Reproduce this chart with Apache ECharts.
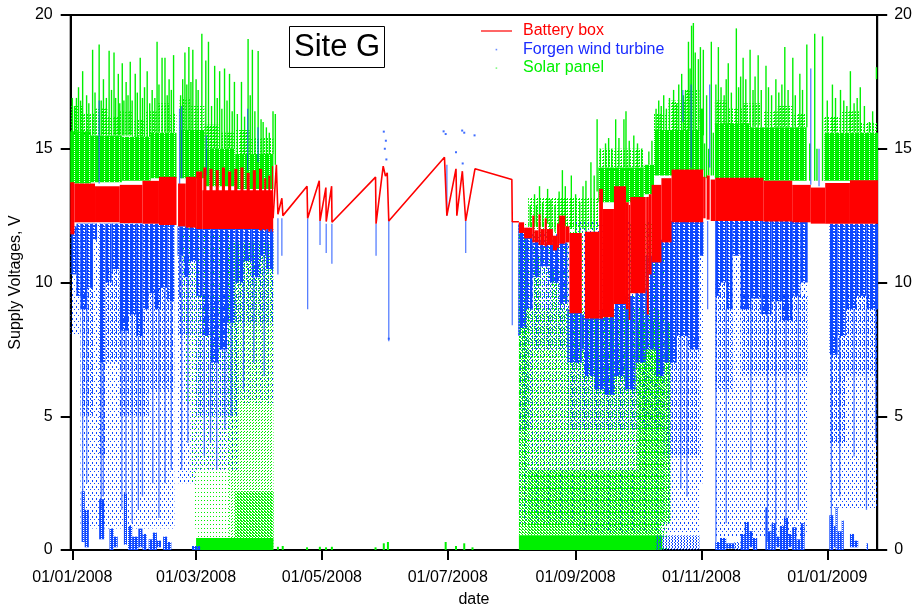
<!DOCTYPE html>
<html>
<head>
<meta charset="utf-8">
<title>Site G supply voltages</title>
<script src="https://cdn.jsdelivr.net/npm/echarts@6/dist/echarts.min.js"></script>
<style>
  html, body { margin: 0; padding: 0; background: #fff; }
  #chart { width: 915px; height: 613px; }
</style>
</head>
<body>
<div id="chart"></div>
<script>
// ---------------- Axis ticks ----------------
const dateTicks = ['2008-01-01', '2008-03-01', '2008-05-01', '2008-07-01', '2008-09-01', '2008-11-01', '2009-01-01'];

// ---------------- Battery box ----------------
// logged continuously: [from, to, min V, max V]
const batteryBands = [
  ['2007-12-31', '2008-01-02', 11.8, 13.75],
  ['2008-01-02', '2008-01-12', 12.25, 13.7],
  ['2008-01-12', '2008-01-24', 12.25, 13.6],
  ['2008-01-24', '2008-02-04', 12.22, 13.65],
  ['2008-02-04', '2008-02-12', 12.2, 13.8],
  ['2008-02-12', '2008-02-20 12', 12.15, 13.95],
  ['2008-02-21 06', '2008-02-25', 12.1, 13.7],
  ['2008-02-25', '2008-03-01', 12.05, 13.95],
  ['2008-03-01', '2008-03-04', 12.0, 14.15],
  ['2008-03-04', '2008-04-07 08', 12.0, 13.45],
  ['2008-03-04 12', '2008-03-06', 12.0, 14.3],
  ['2008-03-07 12', '2008-03-09', 12.0, 14.25],
  ['2008-03-10 12', '2008-03-12', 12.0, 14.2],
  ['2008-03-13 12', '2008-03-15', 12.0, 14.3],
  ['2008-03-16 12', '2008-03-18', 12.0, 14.15],
  ['2008-03-19 12', '2008-03-21', 12.0, 14.25],
  ['2008-03-22 12', '2008-03-24', 12.0, 14.3],
  ['2008-03-25 12', '2008-03-27', 12.0, 14.1],
  ['2008-03-28 12', '2008-03-30', 12.0, 14.2],
  ['2008-03-31 12', '2008-04-02', 11.95, 14.25],
  ['2008-04-03', '2008-04-04', 11.95, 13.9],
  ['2008-04-05', '2008-04-06', 11.9, 14.0],
  ['2008-04-06 18', '2008-04-07 08', 11.9, 14.35],
  ['2008-08-04 12', '2008-08-07', 11.85, 12.25],
  ['2008-08-07', '2008-08-11', 11.65, 12.05],
  ['2008-08-11', '2008-08-12', 11.5, 12.5],
  ['2008-08-12', '2008-08-14', 11.5, 11.95],
  ['2008-08-14', '2008-08-15', 11.4, 12.55],
  ['2008-08-15', '2008-08-17', 11.4, 12.0],
  ['2008-08-17', '2008-08-18', 11.35, 12.4],
  ['2008-08-18', '2008-08-21', 11.4, 12.0],
  ['2008-08-21', '2008-08-23', 11.2, 11.75],
  ['2008-08-23', '2008-08-24', 11.3, 12.2],
  ['2008-08-24', '2008-08-27', 11.45, 12.5],
  ['2008-08-27', '2008-08-29', 11.5, 12.1],
  ['2008-08-29', '2008-09-04', 8.85, 11.85],
  ['2008-09-05 12', '2008-09-12 10', 8.65, 11.9],
  ['2008-09-12 10', '2008-09-14 06', 8.65, 13.5],
  ['2008-09-14 06', '2008-09-19 14', 8.7, 12.75],
  ['2008-09-19 14', '2008-09-25 10', 9.2, 13.6],
  ['2008-09-25 10', '2008-09-26 18', 9.0, 13.0],
  ['2008-09-26 18', '2008-09-27 12', 8.6, 12.9],
  ['2008-09-27 12', '2008-10-04 22', 9.6, 13.2],
  ['2008-10-04 22', '2008-10-05 12', 9.7, 13.2],
  ['2008-10-05 12', '2008-10-06 12', 8.8, 13.2],
  ['2008-10-06 12', '2008-10-07 20', 10.3, 13.3],
  ['2008-10-07 20', '2008-10-12 14', 10.75, 13.65],
  ['2008-10-12 14', '2008-10-17 12', 11.5, 13.9],
  ['2008-10-17 12', '2008-11-01 20', 12.25, 14.22],
  ['2008-11-01 20', '2008-11-03', 12.4, 13.95],
  ['2008-11-03 12', '2008-11-05', 12.35, 14.0],
  ['2008-11-05 12', '2008-11-07 16', 12.3, 13.85],
  ['2008-11-07 16', '2008-12-01', 12.3, 13.92],
  ['2008-12-01', '2008-12-15', 12.28, 13.8],
  ['2008-12-15', '2008-12-24', 12.25, 13.65],
  ['2008-12-24', '2008-12-31', 12.2, 13.55],
  ['2008-12-31', '2009-01-12', 12.2, 13.72],
  ['2009-01-12', '2009-01-26', 12.2, 13.82]
];
// sparse logging through the summer: [time, V]
const batteryLine = [
  ['2008-04-07 08', 12.4], ['2008-04-08 22', 14.4], ['2008-04-09 16', 12.55],
  ['2008-04-11 14', 13.15], ['2008-04-12 02', 12.5], ['2008-04-23 19', 13.6],
  ['2008-04-24 02', 12.4], ['2008-04-29 17', 13.8], ['2008-04-30 02', 12.3],
  ['2008-05-02 22', 13.55], ['2008-05-03 02', 12.28], ['2008-05-05 17', 13.6],
  ['2008-05-05 21', 12.25], ['2008-05-27 00', 13.94], ['2008-05-27 06', 12.2],
  ['2008-05-30 17', 14.35], ['2008-05-31 19', 13.98], ['2008-06-01 16', 14.1],
  ['2008-06-02 10', 12.3], ['2008-06-29 10', 14.68], ['2008-06-30 14', 12.5],
  ['2008-07-05 00', 14.25], ['2008-07-05 10', 12.5], ['2008-07-08 02', 14.16],
  ['2008-07-09 17', 12.3], ['2008-07-14 05', 14.25], ['2008-08-01 02', 13.85],
  ['2008-08-01 07', 12.27], ['2008-08-04 12', 12.27]
];

// ---------------- Solar panel ----------------
// daytime core: [from, to, min V, max V]
const solarCore = [
  ['2007-12-31', '2008-01-10', 13.7, 15.65],
  ['2008-01-10', '2008-01-25', 13.75, 15.5],
  ['2008-01-25', '2008-02-08', 13.8, 15.45],
  ['2008-02-08', '2008-02-20 12', 13.9, 15.6],
  ['2008-02-22', '2008-03-05', 13.9, 15.7],
  ['2008-03-05', '2008-03-20', 13.6, 15.0],
  ['2008-03-20', '2008-04-07 12', 13.5, 14.8],
  ['2008-09-12', '2008-10-04', 13.0, 14.3],
  ['2008-10-04', '2008-10-09', 13.3, 14.4],
  ['2008-10-09', '2008-10-31', 14.0, 15.7],
  ['2008-10-31', '2008-11-02', 14.2, 16.5],
  ['2008-11-07 12', '2008-11-25', 13.9, 15.95],
  ['2008-11-25', '2008-12-22', 13.8, 15.8],
  ['2008-12-30 12', '2009-01-26', 13.8, 15.6]
];
// scattered readings just above the core
const solarUpper = [
  ['2007-12-31', '2008-01-06', 15.5, 16.6], ['2008-01-06', '2008-01-12', 15.5, 16.3],
  ['2008-01-12', '2008-01-18', 15.5, 16.5], ['2008-01-18', '2008-01-24', 15.5, 16.2],
  ['2008-01-24', '2008-01-30', 15.5, 16.4], ['2008-01-30', '2008-02-05', 15.45, 16.1],
  ['2008-02-05', '2008-02-11', 15.45, 16.4], ['2008-02-11', '2008-02-17', 15.6, 16.7],
  ['2008-02-17', '2008-02-20 12', 15.6, 16.3], ['2008-02-22', '2008-02-27', 15.7, 16.9],
  ['2008-02-27', '2008-03-05', 15.7, 16.6], ['2008-03-05', '2008-03-12', 15.0, 15.9],
  ['2008-03-12', '2008-03-20', 15.0, 15.6], ['2008-03-20', '2008-03-27', 14.8, 15.7],
  ['2008-03-27', '2008-04-07 12', 14.8, 15.4],
  ['2008-08-09', '2008-09-12', 12.0, 13.2],
  ['2008-09-12', '2008-10-04', 14.2, 15.0],
  ['2008-10-09', '2008-10-16', 15.6, 16.3], ['2008-10-16', '2008-10-24', 15.6, 16.8],
  ['2008-10-24', '2008-10-31', 15.6, 17.2],
  ['2008-11-07 12', '2008-11-14', 15.9, 16.8], ['2008-11-14', '2008-11-21', 15.9, 16.5],
  ['2008-11-21', '2008-11-30', 15.9, 16.7], ['2008-12-01', '2008-12-08', 15.8, 16.4],
  ['2008-12-08', '2008-12-15', 15.8, 16.6], ['2008-12-15', '2008-12-22', 15.8, 16.3],
  ['2008-12-30 12', '2009-01-08', 15.6, 16.2], ['2009-01-08', '2009-01-17', 15.6, 16.4],
  ['2009-01-17', '2009-01-26', 15.6, 16.0]
];
// daily peaks: [time, from V, to V]
const solarPeaks = [
  ['2008-01-01', 15.6, 16.9], ['2008-01-02 02', 15.6, 16.6], ['2008-01-03', 15.6, 16.9],
  ['2008-01-04', 15.6, 17.3], ['2008-01-05', 15.6, 16.8], ['2008-01-06', 15.6, 17.9],
  ['2008-01-07 22', 15.6, 17.0], ['2008-01-09', 15.6, 16.7], ['2008-01-10 20', 15.5, 18.7],
  ['2008-01-12', 15.5, 17.1], ['2008-01-14', 15.5, 18.9], ['2008-01-15', 15.5, 16.8],
  ['2008-01-16 02', 15.5, 17.6], ['2008-01-17 12', 15.5, 16.9], ['2008-01-18 20', 15.5, 18.66],
  ['2008-01-20', 15.5, 17.2], ['2008-01-21 05', 15.5, 18.6], ['2008-01-22', 15.5, 16.9],
  ['2008-01-23 07', 15.5, 17.8], ['2008-01-24', 15.5, 16.7], ['2008-01-25 05', 15.5, 18.2],
  ['2008-01-26', 15.5, 16.8], ['2008-01-27 02', 15.5, 17.5], ['2008-01-28', 15.5, 17.0],
  ['2008-01-29 02', 15.5, 18.25], ['2008-01-30', 15.5, 16.8], ['2008-01-31 12', 15.45, 17.8],
  ['2008-02-01 12', 15.45, 17.1], ['2008-02-02 22', 15.45, 18.4], ['2008-02-04', 15.45, 16.9],
  ['2008-02-05', 15.45, 17.3], ['2008-02-06 07', 15.45, 17.9], ['2008-02-07 12', 15.45, 16.7],
  ['2008-02-08 17', 15.5, 17.2], ['2008-02-10', 15.6, 16.9], ['2008-02-11 02', 15.6, 19.0],
  ['2008-02-12', 15.6, 17.4], ['2008-02-13 12', 15.6, 18.4], ['2008-02-14 22', 15.6, 18.4],
  ['2008-02-16', 15.6, 17.0], ['2008-02-16 22', 15.6, 17.6], ['2008-02-18', 15.6, 17.2],
  ['2008-02-19 02', 15.6, 18.5], ['2008-02-22 12', 15.7, 17.0], ['2008-02-23 12', 15.7, 17.6],
  ['2008-02-24 14', 15.7, 18.6], ['2008-02-25 12', 15.7, 17.4], ['2008-02-26 12', 15.7, 18.8],
  ['2008-02-27 12', 15.7, 17.5], ['2008-02-28 10', 15.7, 18.7], ['2008-03-01', 15.7, 17.6],
  ['2008-03-02', 15.7, 17.2], ['2008-03-03 19', 15.7, 19.3], ['2008-03-05 17', 15.0, 18.3],
  ['2008-03-07', 15.0, 19.0], ['2008-03-08 12', 15.0, 16.6], ['2008-03-10', 15.0, 18.1],
  ['2008-03-11 06', 15.0, 16.9], ['2008-03-12 10', 15.0, 17.9], ['2008-03-13 12', 15.0, 16.5],
  ['2008-03-14 19', 15.0, 18.0], ['2008-03-16', 15.0, 16.8], ['2008-03-17 05', 15.0, 17.8],
  ['2008-03-18 12', 15.0, 16.4], ['2008-03-19 14', 15.0, 17.5], ['2008-03-21', 14.8, 16.3],
  ['2008-03-23', 14.8, 17.5], ['2008-03-24 12', 14.8, 16.2], ['2008-03-26 05', 14.8, 19.1],
  ['2008-03-27 06', 14.8, 17.0], ['2008-03-28 07', 14.8, 18.7], ['2008-03-29 12', 14.8, 16.4],
  ['2008-03-31 02', 14.8, 18.65], ['2008-04-01 12', 14.8, 16.1], ['2008-04-02 12', 14.8, 16.0],
  ['2008-04-04 02', 14.8, 15.8], ['2008-04-05 12', 14.8, 15.6], ['2008-04-07 07', 14.8, 16.4],
  ['2008-04-08 10', 14.4, 16.3],
  ['2008-08-10', 12.1, 12.9], ['2008-08-12 02', 12.2, 13.3], ['2008-08-13', 12.1, 12.9],
  ['2008-08-14 12', 12.3, 13.6], ['2008-08-16', 12.1, 13.0], ['2008-08-18 10', 12.2, 13.5],
  ['2008-08-20', 12.0, 13.1], ['2008-08-22', 11.9, 12.9], ['2008-08-24', 12.1, 13.4],
  ['2008-08-25 14', 12.3, 14.2], ['2008-08-27', 12.1, 13.6], ['2008-08-29 22', 12.0, 14.0],
  ['2008-09-01', 11.8, 13.3], ['2008-09-03', 11.8, 13.0], ['2008-09-04 14', 12.0, 13.6],
  ['2008-09-06', 11.9, 13.8], ['2008-09-08 10', 12.0, 14.5], ['2008-09-10', 11.9, 14.0],
  ['2008-09-11 10', 13.4, 16.1], ['2008-09-13', 14.3, 15.0], ['2008-09-15 12', 14.3, 15.2],
  ['2008-09-17', 14.3, 15.4], ['2008-09-18 12', 14.3, 15.0], ['2008-09-20 10', 14.3, 16.1],
  ['2008-09-22', 14.3, 15.4], ['2008-09-24 10', 14.3, 16.1], ['2008-09-25 10', 14.3, 16.4],
  ['2008-09-27', 14.3, 15.3], ['2008-09-29 05', 14.3, 15.5], ['2008-10-01', 14.3, 15.2],
  ['2008-10-03', 14.3, 15.0], ['2008-10-06 12', 14.4, 14.9], ['2008-10-08', 14.4, 15.3],
  ['2008-10-10', 15.7, 16.5], ['2008-10-11 07', 15.7, 16.8], ['2008-10-12 12', 15.7, 16.6],
  ['2008-10-13 17', 15.7, 17.0], ['2008-10-15', 15.7, 16.5], ['2008-10-16 12', 15.7, 16.9],
  ['2008-10-18 12', 15.7, 17.2], ['2008-10-20', 15.7, 16.7], ['2008-10-21', 15.7, 17.4],
  ['2008-10-22 10', 15.7, 17.8], ['2008-10-23 06', 15.7, 17.0], ['2008-10-24 07', 15.7, 17.2],
  ['2008-10-25 17', 15.7, 19.0], ['2008-10-26 12', 15.7, 18.0], ['2008-10-27 05', 15.7, 19.6],
  ['2008-10-28 02', 15.7, 19.7], ['2008-10-29', 15.7, 18.6], ['2008-10-30 12', 15.7, 18.35],
  ['2008-10-31 12', 16.0, 18.8], ['2008-11-01 22', 15.5, 18.7], ['2008-11-02 12', 13.9, 15.2],
  ['2008-11-03 12', 13.9, 17.0], ['2008-11-04 12', 14.0, 15.0], ['2008-11-05 19', 14.0, 19.0],
  ['2008-11-06 18', 14.0, 15.6],
  ['2008-11-08', 15.9, 17.4], ['2008-11-09 05', 15.9, 18.8],
  ['2008-11-10 12', 15.9, 17.3], ['2008-11-12', 15.9, 17.0], ['2008-11-13', 15.9, 17.6],
  ['2008-11-14', 15.9, 18.2], ['2008-11-15 12', 15.9, 17.1], ['2008-11-17 22', 15.9, 19.5],
  ['2008-11-19', 15.9, 17.3], ['2008-11-20', 15.9, 17.7], ['2008-11-21 05', 15.9, 18.4],
  ['2008-11-22 12', 15.9, 17.6], ['2008-11-24 14', 15.9, 18.7], ['2008-11-26', 15.8, 17.2],
  ['2008-11-27', 15.8, 17.7], ['2008-11-28 12', 15.8, 18.5], ['2008-11-30', 15.8, 17.2],
  ['2008-12-02 07', 15.8, 18.1], ['2008-12-03 12', 15.8, 17.3], ['2008-12-05', 15.8, 17.0],
  ['2008-12-07 02', 15.8, 17.6], ['2008-12-08 12', 15.8, 17.1], ['2008-12-10', 15.8, 17.4],
  ['2008-12-11 10', 15.8, 18.8], ['2008-12-13', 15.8, 17.2], ['2008-12-15 07', 15.8, 18.4],
  ['2008-12-16 12', 15.8, 17.0], ['2008-12-18 17', 15.8, 17.8], ['2008-12-20', 15.8, 17.2],
  ['2008-12-22 02', 15.8, 18.9], ['2008-12-23 12', 13.8, 15.2], ['2008-12-25 22', 13.8, 19.3],
  ['2008-12-27', 13.8, 15.0], ['2008-12-29 17', 13.8, 19.2],
  ['2009-01-01', 15.6, 16.8], ['2009-01-03 12', 15.6, 17.4], ['2009-01-05', 15.6, 16.9],
  ['2009-01-07 10', 15.6, 17.2], ['2009-01-09', 15.6, 16.8], ['2009-01-10 12', 15.6, 16.6],
  ['2009-01-12 05', 15.6, 17.9], ['2009-01-14', 15.6, 16.7], ['2009-01-15 12', 15.6, 16.9],
  ['2009-01-17', 15.6, 17.3], ['2009-01-19', 15.6, 16.6], ['2009-01-21 10', 15.6, 16.0],
  ['2009-01-23', 15.6, 16.4], ['2009-01-24 20', 17.6, 18.05]
];
// dusk / night readings below the battery level: [from, to, min V, max V]
const solarDusk = [
  ['2008-02-23', '2008-02-25', 8.5, 12.1],
  ['2008-02-25', '2008-02-27', 5.5, 12.1],
  ['2008-02-27', '2008-02-29', 2.5, 12.0],
  ['2008-02-29', '2008-03-02', 0.8, 12.0],
  ['2008-03-02', '2008-03-17', 0, 12.0],
  ['2008-08-04 12', '2008-10-16', 0, 12.2]
];
const solarDuskMid = [
  ['2008-03-17', '2008-04-07 12', 0, 11.5],
  ['2008-08-09', '2008-10-14', 0.5, 9.0],
  ['2008-08-12', '2008-08-15', 0.5, 11.0],
  ['2008-08-20', '2008-08-23', 0.5, 10.5],
  ['2008-09-10', '2008-09-13', 0.5, 8.5],
  ['2008-09-24', '2008-09-28', 0.5, 8.8]
];
const solarDuskBright = [
  ['2008-03-20', '2008-04-07 12', 0.45, 2.2],
  ['2008-08-04 12', '2008-08-09', 0.55, 12.0],
  ['2008-08-09', '2008-10-12', 0.55, 3.0],
  ['2008-10-01', '2008-10-17', 1.0, 8.5]
];
const solarNight = [
  ['2008-03-01', '2008-04-07 12', 0, 0.45],
  ['2008-08-04 12', '2008-10-13', 0, 0.55]
];
// single night readings during sparse logging: [time, from V, to V]
const solarNightSparse = [
  ['2008-04-09 16', 0, 0.12], ['2008-04-12', 0, 0.15], ['2008-04-23 19', 0, 0.1],
  ['2008-04-30', 0, 0.12], ['2008-05-03', 0, 0.1], ['2008-05-05 20', 0, 0.12],
  ['2008-05-27', 0, 0.1], ['2008-05-31', 0, 0.25], ['2008-06-02', 0, 0.3],
  ['2008-06-30', 0, 0.3], ['2008-07-05', 0, 0.15], ['2008-07-09', 0, 0.25], ['2008-07-13', 0, 0.1]
];

// ---------------- Forgen wind turbine ----------------
// heavy readings just under the battery: [from, to, min V, max V]
const windDense = [
  ['2007-12-31 12', '2008-01-03', 10.3, 12.1], ['2008-01-03', '2008-01-05', 9.5, 12.2],
  ['2008-01-05', '2008-01-08', 9.0, 12.2], ['2008-01-08', '2008-01-11', 9.8, 12.2],
  ['2008-01-11', '2008-01-13', 11.6, 12.2], ['2008-01-14', '2008-01-17', 7.0, 12.2],
  ['2008-01-17', '2008-01-20', 10.0, 12.2], ['2008-01-20', '2008-01-24', 10.5, 12.2],
  ['2008-01-24', '2008-01-28', 8.2, 12.2], ['2008-01-28', '2008-02-01', 8.8, 12.2],
  ['2008-02-01', '2008-02-04', 8.0, 12.2], ['2008-02-04', '2008-02-07', 9.0, 12.2],
  ['2008-02-07', '2008-02-10', 9.6, 12.2], ['2008-02-10', '2008-02-13', 9.0, 12.2],
  ['2008-02-13', '2008-02-16', 9.8, 12.2], ['2008-02-16', '2008-02-19 12', 9.3, 12.2],
  ['2008-02-21', '2008-02-24', 11.0, 12.1], ['2008-02-24', '2008-02-27', 10.2, 12.1],
  ['2008-02-27', '2008-03-01', 10.8, 12.1], ['2008-03-01', '2008-03-04', 9.5, 12.0],
  ['2008-03-04', '2008-03-08', 8.0, 12.0], ['2008-03-08', '2008-03-12', 7.0, 12.0],
  ['2008-03-12', '2008-03-16', 7.5, 12.0], ['2008-03-16', '2008-03-20', 8.5, 12.0],
  ['2008-03-20', '2008-03-24', 10.0, 12.0], ['2008-03-24', '2008-03-28', 10.8, 12.0],
  ['2008-03-28', '2008-04-01', 10.2, 12.0], ['2008-04-01', '2008-04-04', 11.0, 12.0],
  ['2008-04-04', '2008-04-07 12', 10.5, 12.0],
  ['2008-08-04 06', '2008-08-05', 8.0, 12.2], ['2008-08-05', '2008-08-08', 8.3, 11.9],
  ['2008-08-08', '2008-08-11', 9.0, 11.8], ['2008-08-11', '2008-08-15', 10.2, 11.6],
  ['2008-08-15', '2008-08-19', 10.6, 11.5], ['2008-08-19', '2008-08-24', 10.0, 11.4],
  ['2008-08-24', '2008-08-28', 9.2, 11.5], ['2008-08-28', '2008-09-04', 7.0, 9.0],
  ['2008-09-04', '2008-09-05 12', 7.5, 8.8], ['2008-09-05 12', '2008-09-10', 6.5, 9.0],
  ['2008-09-10', '2008-09-15', 6.0, 9.0], ['2008-09-15', '2008-09-20', 5.8, 9.0],
  ['2008-09-20', '2008-09-25', 6.5, 9.5], ['2008-09-25', '2008-09-30', 6.0, 9.5],
  ['2008-09-30', '2008-10-05', 7.0, 9.8], ['2008-10-05', '2008-10-10', 7.5, 11.0],
  ['2008-10-10', '2008-10-14', 6.5, 11.6], ['2008-10-14', '2008-10-20', 7.0, 12.3],
  ['2008-10-20', '2008-10-26', 8.0, 12.3], ['2008-10-26', '2008-10-31', 7.5, 12.3],
  ['2008-10-31', '2008-11-02', 11.0, 12.3],
  ['2008-11-07 16', '2008-11-10', 9.5, 12.3], ['2008-11-10', '2008-11-13', 10.0, 12.3],
  ['2008-11-13', '2008-11-16', 9.0, 12.3], ['2008-11-16', '2008-11-20', 11.0, 12.3],
  ['2008-11-20', '2008-11-25', 9.0, 12.3], ['2008-11-25', '2008-11-30', 9.4, 12.3],
  ['2008-11-30', '2008-12-05', 8.8, 12.3], ['2008-12-05', '2008-12-10', 9.3, 12.3],
  ['2008-12-10', '2008-12-15', 8.6, 12.3], ['2008-12-15', '2008-12-19', 9.5, 12.3],
  ['2008-12-19', '2008-12-22 12', 10.0, 12.3],
  ['2009-01-02', '2009-01-06', 7.3, 12.2], ['2009-01-06', '2009-01-10', 8.0, 12.2],
  ['2009-01-10', '2009-01-15', 9.0, 12.2], ['2009-01-15', '2009-01-20', 9.5, 12.2],
  ['2009-01-20', '2009-01-26', 9.0, 12.2]
];
const windMedium = [
  ['2008-01-05', '2008-01-11', 5.0, 9.8], ['2008-01-14', '2008-01-17', 3.5, 7.0],
  ['2008-01-17', '2008-01-24', 7.0, 10.5], ['2008-01-24', '2008-02-07', 5.0, 9.0],
  ['2008-02-07', '2008-02-19 12', 6.0, 9.8], ['2008-02-21', '2008-03-01', 8.0, 11.0],
  ['2008-03-01', '2008-03-21', 5.0, 9.5], ['2008-03-21', '2008-04-07 12', 8.5, 11.0],
  ['2008-08-05', '2008-08-11', 4.5, 9.0], ['2008-08-11', '2008-08-28', 7.5, 10.6],
  ['2008-08-28', '2008-10-14', 4.5, 7.5], ['2008-10-14', '2008-10-31', 3.5, 8.0],
  ['2008-11-07 16', '2008-11-16', 6.0, 10.0], ['2008-11-20', '2008-12-22 12', 6.5, 9.5],
  ['2009-01-02', '2009-01-10', 4.0, 8.0], ['2009-01-10', '2009-01-26', 6.5, 9.5]
];
const windSparse = [
  ['2007-12-31', '2008-01-05', 8.0, 12.1], ['2008-01-05', '2008-02-19 12', 0.8, 12.2],
  ['2008-02-21', '2008-03-01', 2.5, 12.1], ['2008-03-01', '2008-03-21', 3.0, 12.0],
  ['2008-03-21', '2008-04-07 12', 5.5, 12.0],
  ['2008-08-04 12', '2008-09-01', 1.0, 11.8], ['2008-09-01', '2008-10-31', 0.6, 12.3],
  ['2008-10-31', '2008-11-02', 2.5, 12.3],
  ['2008-11-07 16', '2008-12-22 12', 0.5, 12.3], ['2009-01-02', '2009-01-26', 1.5, 12.2]
];
// clusters of readings close to 0 V
const windNearZero = [
  ['2008-01-05 12', '2008-01-07', 0.3, 2.2], ['2008-01-07', '2008-01-09', 0.1, 1.5],
  ['2008-01-14', '2008-01-16 12', 0.4, 1.9], ['2008-01-19', '2008-01-21', 0, 0.8],
  ['2008-01-21', '2008-01-23', 0.1, 0.5],
  ['2008-01-26', '2008-01-27 12', 0.2, 2.1], ['2008-01-28', '2008-01-30', 0, 0.9],
  ['2008-01-30', '2008-02-02', 0, 0.5], ['2008-02-02', '2008-02-04', 0.1, 0.8],
  ['2008-02-04', '2008-02-06', 0, 0.6], ['2008-02-07', '2008-02-09', 0, 0.4],
  ['2008-02-09', '2008-02-11', 0, 0.65], ['2008-02-11', '2008-02-13', 0.1, 0.35],
  ['2008-02-14', '2008-02-16', 0, 0.5], ['2008-02-16', '2008-02-18', 0, 0.3],
  ['2008-02-28', '2008-03-03', 0, 0.15],
  ['2008-11-07 16', '2008-11-10', 0, 0.3], ['2008-11-10', '2008-11-13', 0, 0.45],
  ['2008-11-13', '2008-11-17', 0.05, 0.25],
  ['2008-11-20', '2008-11-22', 0, 0.6], ['2008-11-22', '2008-11-24', 0, 1.05],
  ['2008-11-24', '2008-11-26', 0.1, 0.7], ['2008-11-26', '2008-11-28', 0, 0.45],
  ['2008-12-02', '2008-12-02 18', 0, 1.6], ['2008-12-03', '2008-12-05', 0, 0.7],
  ['2008-12-05', '2008-12-07', 0, 1.0], ['2008-12-07', '2008-12-09', 0.1, 0.5],
  ['2008-12-09', '2008-12-11', 0, 0.9], ['2008-12-11', '2008-12-13', 0, 1.2],
  ['2008-12-13', '2008-12-15', 0.1, 0.6], ['2008-12-15', '2008-12-17', 0, 0.85],
  ['2008-12-17', '2008-12-19', 0, 0.4], ['2008-12-19', '2008-12-21', 0, 1.0],
  ['2009-01-02', '2009-01-04', 0, 1.3], ['2009-01-04', '2009-01-05', 0.1, 0.9],
  ['2009-01-05', '2009-01-06', 0, 1.6], ['2009-01-06', '2009-01-08', 0, 0.7],
  ['2009-01-08', '2009-01-09', 0, 1.1],
  ['2009-01-12', '2009-01-14', 0.1, 0.6], ['2009-01-14', '2009-01-16', 0.1, 0.35],
  ['2009-01-20', '2009-01-20 18', 0, 0.25]
];
const windNearZeroLight = [
  ['2008-10-10', '2008-10-31', 0, 0.55], ['2008-11-17', '2008-11-20', 0, 0.3]
];
// single gusts: [time, from V, to V]
const windStreaks = [
  ['2008-01-06', 2.2, 9.0], ['2008-01-08', 2.5, 9.8], ['2008-01-15', 1.5, 7.0], ['2008-01-16', 2.0, 7.0],
  ['2008-01-25', 1.5, 8.2], ['2008-01-27', 2.0, 8.2], ['2008-01-30', 1.0, 8.8], ['2008-02-02', 1.5, 8.0],
  ['2008-02-04', 2.0, 9.0], ['2008-02-09', 2.5, 9.6], ['2008-02-12', 1.2, 9.0], ['2008-02-15', 2.5, 9.8],
  ['2008-02-18', 3.0, 9.3], ['2008-02-23', 3.0, 11.0], ['2008-02-26', 4.0, 10.2], ['2008-03-05', 3.5, 8.0],
  ['2008-03-08', 4.0, 7.0], ['2008-03-11', 3.0, 7.0], ['2008-03-15', 4.5, 7.5], ['2008-03-18', 5.0, 8.5],
  ['2008-03-24', 6.0, 10.0], ['2008-03-29', 7.0, 10.2], ['2008-04-03', 6.5, 11.0],
  ['2008-01-14', 13.7, 16.8], ['2008-02-22', 9.5, 16.5], ['2008-02-23', 13.9, 16.6],
  ['2008-03-06', 14.0, 15.5], ['2008-03-26', 14.2, 16.5], ['2008-03-31', 14.5, 15.8],
  ['2008-04-09 16', 10.3, 12.4], ['2008-04-11 14', 11.0, 12.4], ['2008-04-24 02', 9.0, 12.4],
  ['2008-04-30 02', 11.4, 12.3], ['2008-05-03 02', 11.1, 12.2], ['2008-05-05 20', 10.7, 12.2],
  ['2008-05-27 06', 11.0, 12.2], ['2008-06-02 10', 7.8, 12.3], ['2008-06-30 14', 12.5, 14.4],
  ['2008-07-09 17', 11.1, 12.3], ['2008-08-01 07', 8.4, 12.3], ['2008-08-04 12', 8.0, 12.2],
  ['2008-10-22', 2.3, 8.0], ['2008-10-25', 2.0, 8.0], ['2008-11-04', 9.0, 12.3],
  ['2008-11-08', 0.3, 9.5], ['2008-11-13', 1.0, 9.0], ['2008-11-25', 3.0, 9.4], ['2008-12-03', 0.3, 8.8],
  ['2008-12-07', 0.3, 9.3], ['2008-12-12', 1.0, 8.6], ['2008-12-18', 1.5, 9.5], ['2009-01-03', 0.3, 7.3],
  ['2009-01-07', 2.0, 8.0], ['2009-01-14', 3.5, 9.0], ['2009-01-20', 1.5, 9.0], ['2009-01-24 12', 4.0, 9.0],
  ['2008-10-23', 16.0, 17.2], ['2008-10-27', 14.3, 17.4], ['2008-11-05', 14.3, 17.4],
  ['2008-12-24', 13.65, 18.0], ['2008-12-28', 13.6, 15.0]
];
const windPoints = [
  ['2008-05-31', 15.64], ['2008-06-01', 15.3], ['2008-05-31 12', 15.0], ['2008-06-01 06', 14.6],
  ['2008-06-29', 15.65], ['2008-06-30', 15.55], ['2008-07-08', 15.68], ['2008-07-09', 15.6],
  ['2008-07-14', 15.5], ['2008-07-05', 14.87], ['2008-07-08 06', 14.45], ['2008-06-02 10', 7.9]
];

// ---------------- helpers ----------------
function ts(s) {
  const parts = s.split(' ');
  const d = parts[0].split('-').map(Number);
  return Date.UTC(d[0], d[1] - 1, d[2], parts[1] ? Number(parts[1]) : 0);
}
function fmtDate(v) {
  const d = new Date(v);
  const p = n => (n < 10 ? '0' : '') + n;
  return p(d.getUTCDate()) + '/' + p(d.getUTCMonth() + 1) + '/' + d.getUTCFullYear();
}
// small repeating dot textures for scattered readings
function dotTile(color, w, h, cells) {
  const c = document.createElement('canvas');
  c.width = w; c.height = h;
  const g = c.getContext('2d');
  g.fillStyle = color;
  cells.forEach(p => g.fillRect(p[0], p[1], p[2] || 1, p[3] || 1));
  return { image: c, repeat: 'repeat' };
}

const RED = '#ff0000', BLUE = '#0f48ff', GREEN = '#00f000';
const fill = {
  blueDense: dotTile(BLUE, 5, 3, [[0, 0, 3, 3], [3, 0, 1, 2], [4, 1, 1, 1]]),
  blueMedium: dotTile(BLUE, 4, 4, [[0, 0, 1, 2], [2, 2, 1, 1], [3, 0, 1, 1]]),
  blueSparse: dotTile(BLUE, 4, 6, [[0, 0, 1, 2], [2, 3]]),
  blueZero: dotTile(BLUE, 3, 2, [[0, 0, 2, 2], [2, 1, 1, 1]]),
  blueZeroLight: dotTile(BLUE, 3, 3, [[0, 0, 1, 2], [2, 2]]),
  greenSparse: dotTile(GREEN, 3, 4, [[0, 0]]),
  greenMid: dotTile(GREEN, 3, 3, [[0, 0], [1, 2]]),
  greenBright: dotTile(GREEN, 3, 3, [[0, 0, 1, 2], [1, 1], [2, 2]]),
  greenUpper: dotTile(GREEN, 3, 3, [[0, 0, 1, 2], [2, 1]]),
  greenCore: dotTile(GREEN, 5, 2, [[0, 0, 4, 2], [4, 0, 1, 1]])
};

function bandSeries(name, rows, style) {
  return {
    type: 'custom', name, silent: true, clip: true,
    data: rows.map(r => [ts(r[0]), ts(r[1]), r[2], r[3]]),
    encode: { x: [0, 1], y: [2, 3] },
    renderItem(params, api) {
      const a = api.coord([api.value(0), api.value(3)]);
      const b = api.coord([api.value(1), api.value(2)]);
      return {
        type: 'rect',
        shape: { x: a[0], y: a[1], width: Math.max(b[0] - a[0], 1), height: Math.max(b[1] - a[1], 1) },
        style: { fill: style }
      };
    }
  };
}
function streakSeries(name, rows, style, width) {
  return {
    type: 'custom', name, silent: true, clip: true,
    data: rows.map(r => [ts(r[0]), r[1], r[2]]),
    encode: { x: 0, y: [1, 2] },
    renderItem(params, api) {
      const a = api.coord([api.value(0), api.value(2)]);
      const b = api.coord([api.value(0), api.value(1)]);
      return {
        type: 'rect',
        shape: { x: a[0] - width / 2, y: a[1], width, height: Math.max(b[1] - a[1], 1) },
        style: { fill: style }
      };
    }
  };
}

const FONT = 'Liberation Sans, Arial, Helvetica, sans-serif';
const chart = echarts.init(document.getElementById('chart'), null, { renderer: 'canvas' });

const axisY = (position, margin) => ({
  type: 'value', position, min: 0, max: 20, interval: 5,
  axisLine: { show: true, lineStyle: { color: '#000', width: 2 } },
  axisTick: { show: true, length: 10, lineStyle: { color: '#000', width: 2 } },
  axisLabel: { margin, color: '#000', fontSize: 16, fontFamily: FONT },
  splitLine: { show: false }
});

chart.setOption({
  animation: false,
  backgroundColor: '#fff',
  title: {
    text: 'Site G', left: 289, top: 26,
    padding: [3, 5, 2, 5], borderColor: '#000', borderWidth: 1,
    textStyle: { fontSize: 31, fontWeight: 'normal', color: '#000', fontFamily: FONT, lineHeight: 37 }
  },
  legend: {
    orient: 'vertical', left: 481, top: 22, padding: 0,
    itemWidth: 31, itemHeight: 10, itemGap: 0.5, selectedMode: false,
    textStyle: { fontSize: 16, fontFamily: FONT, lineHeight: 18, padding: [0, 0, 0, 6] },
    data: [
      { name: 'Battery box', icon: 'path://M0,0M31,10M0,4.4h31v1.2h-31z', itemStyle: { color: RED }, textStyle: { color: RED } },
      { name: 'Forgen wind turbine', icon: 'path://M0,0M31,10M14.6,4.3h1.6v1.6h-1.6z', itemStyle: { color: '#6b8cff' }, textStyle: { color: '#1a2cff' } },
      { name: 'Solar panel', icon: 'path://M0,0M31,10M14.6,4.3h1.6v1.6h-1.6z', itemStyle: { color: '#7dfa7d' }, textStyle: { color: GREEN } }
    ]
  },
  grid: { left: 68, right: 35, top: 15, bottom: 57, show: true, borderColor: '#000', borderWidth: 2 },
  xAxis: {
    type: 'value', min: ts('2007-12-31 05'), max: ts('2009-01-25 05'),
    name: 'date', nameLocation: 'middle', nameGap: 42,
    nameTextStyle: { fontSize: 16, color: '#000', fontFamily: FONT },
    axisLine: { show: true, lineStyle: { color: '#000', width: 2 } },
    axisTick: { show: true, length: 10, lineStyle: { color: '#000', width: 2 }, customValues: dateTicks.map(ts) },
    axisLabel: { margin: 20, color: '#000', fontSize: 16, fontFamily: FONT, customValues: dateTicks.map(ts), formatter: fmtDate },
    splitLine: { show: false }
  },
  yAxis: [
    Object.assign(axisY('left', 18), {
      name: 'Supply Voltages, V', nameLocation: 'middle', nameGap: 42,
      nameTextStyle: { fontSize: 16, color: '#000', fontFamily: FONT }
    }),
    axisY('right', 17)
  ],
  series: [
    bandSeries('Solar panel', solarUpper, fill.greenUpper),
    bandSeries('Solar panel', solarCore, fill.greenCore),
    streakSeries('Solar panel', solarPeaks, GREEN, 1.4),
    bandSeries('Forgen wind turbine', windSparse, fill.blueSparse),
    bandSeries('Forgen wind turbine', windMedium, fill.blueMedium),
    bandSeries('Solar panel', solarDusk, fill.greenSparse),
    bandSeries('Solar panel', solarDuskMid, fill.greenMid),
    bandSeries('Solar panel', solarDuskBright, fill.greenBright),
    bandSeries('Solar panel', solarNight, GREEN),
    streakSeries('Solar panel', solarNightSparse, GREEN, 2),
    bandSeries('Forgen wind turbine', windDense, fill.blueDense),
    bandSeries('Forgen wind turbine', windNearZeroLight, fill.blueZeroLight),
    bandSeries('Forgen wind turbine', windNearZero, fill.blueZero),
    streakSeries('Forgen wind turbine', windStreaks, 'rgba(15,72,255,0.7)', 1.3),
    {
      type: 'scatter', name: 'Forgen wind turbine', silent: true,
      data: windPoints.map(p => [ts(p[0]), p[1]]),
      symbol: 'rect', symbolSize: 2, itemStyle: { color: BLUE }
    },
    bandSeries('Battery box', batteryBands, RED),
    {
      type: 'line', name: 'Battery box', silent: true,
      data: batteryLine.map(p => [ts(p[0]), p[1]]),
      showSymbol: false, lineStyle: { color: RED, width: 1.6 }, itemStyle: { color: RED }
    }
  ]
});
</script>
</body>
</html>
